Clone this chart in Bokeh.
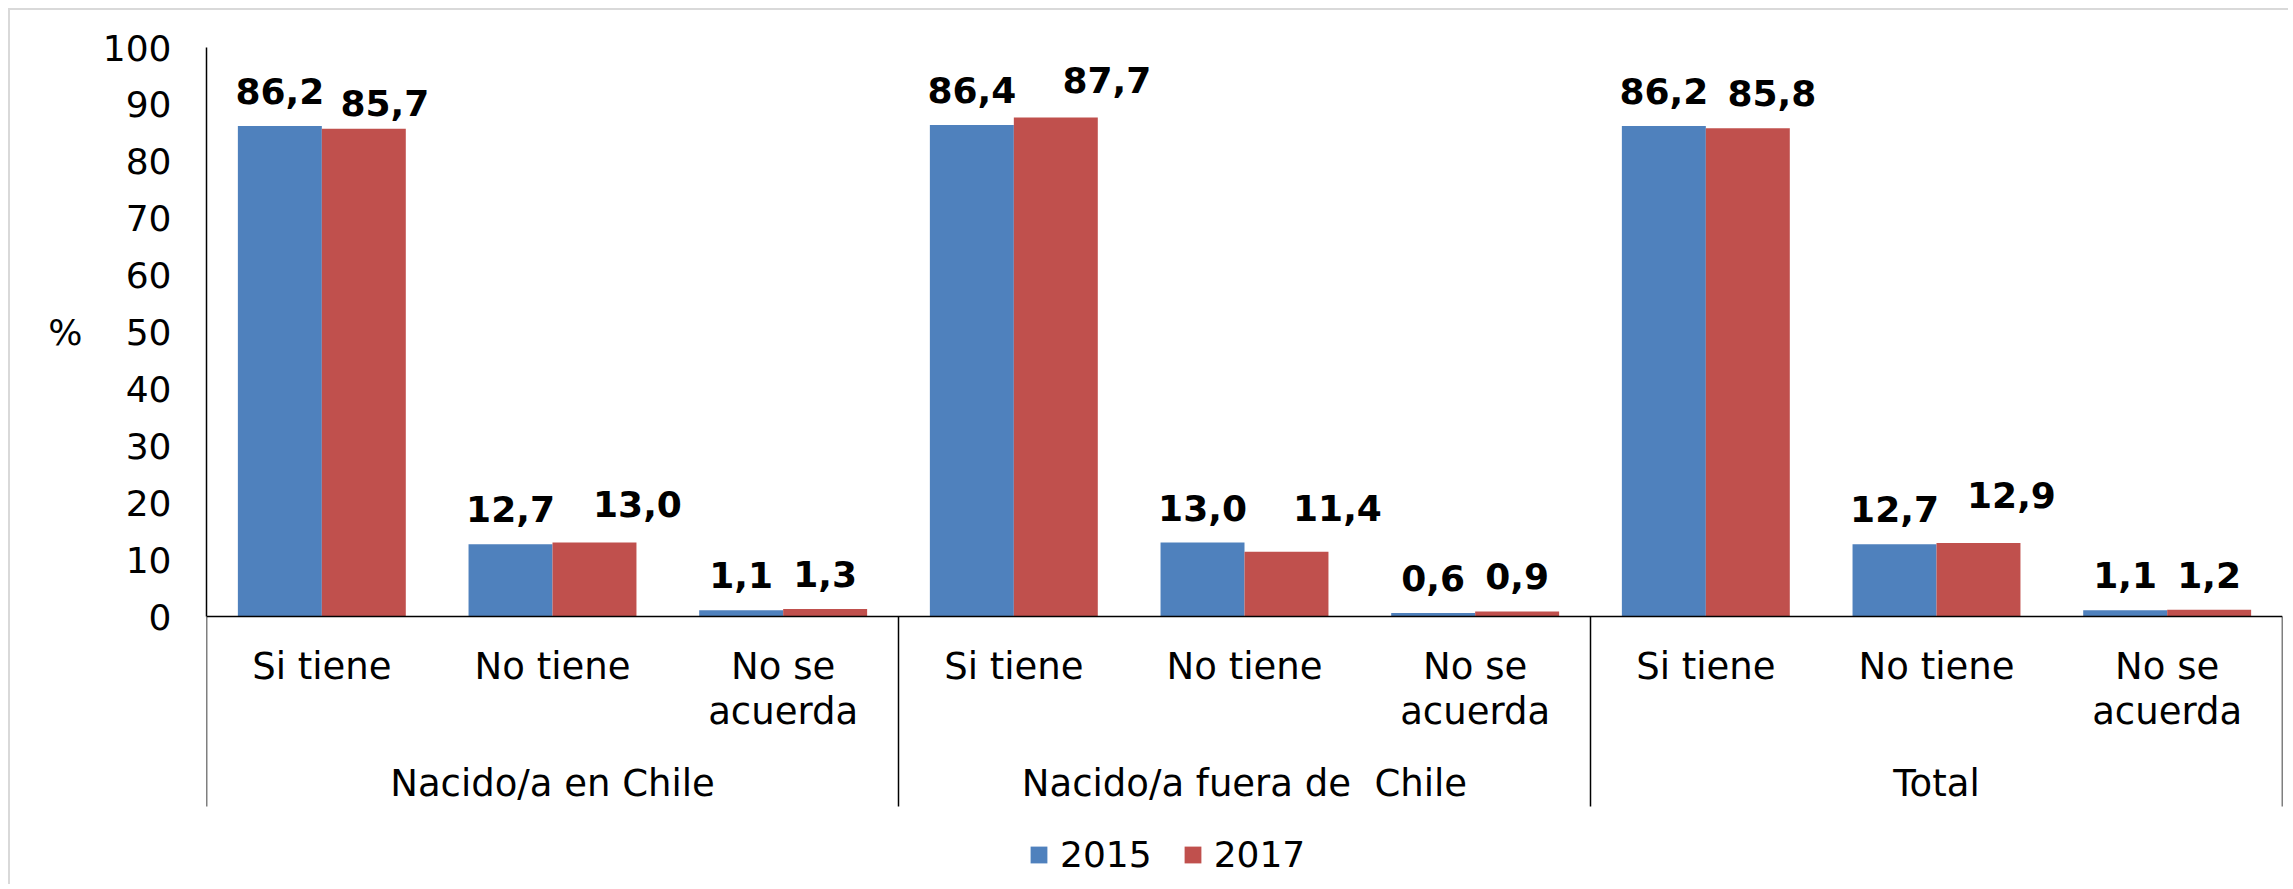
from bokeh.plotting import figure
from bokeh.models import (FactorRange, ColumnDataSource, FixedTicker, Legend,
                          LegendItem, Range1d, LinearAxis)
from bokeh.transform import dodge
from bokeh.core.properties import value
from bokeh.embed import file_html
from bokeh.resources import INLINE

# ---------------- data ----------------
groups = ["Nacido/a en Chile", "Nacido/a fuera de  Chile", "Total"]
categories = ["Si tiene", "No tiene", "No se acuerda"]
series_names = ["2015", "2017"]
values_2015 = [86.2, 12.7, 1.1, 86.4, 13.0, 0.6, 86.2, 12.7, 1.1]
values_2017 = [85.7, 13.0, 1.3, 87.7, 11.4, 0.9, 85.8, 12.9, 1.2]
y_ticks = [0, 10, 20, 30, 40, 50, 60, 70, 80, 90, 100]
y_axis_title = "%"

# ---------------- style ----------------
FONT = "DejaVu Sans"
FS = "36px"
FS_CAT = "37px"
COLORS = ["#4F81BD", "#C0504D"]
LINE = "#000000"
BORDER = "#D9D9D9"
category_wrap = {"No se acuerda": "No se\nacuerda"}
# label nudges (px) imitating the reference's overlap avoidance
nudge_x_2015 = [0, 0, 0, 0, 0, 0, 0, 0, 0]
nudge_y_2015 = [0, 0, 0, 0, 0, 0, 0, 0, 0]
nudge_x_2017 = [21, 43, 0, 51, 51, 0, 24, 33, 0]
nudge_y_2017 = [9, -4, 0, -2, -9, 0, 0, -13, 0]
LABEL_GAP = 35

# page-pixel layout
HOST_MARGIN = 8
ORIGIN_X = ORIGIN_Y = HOST_MARGIN + 2   # margin + border
FRAME_L, FRAME_R = 206, 2282
Y_TOP, Y_ZERO = 47, 616        # pixel rows of 100 and 0
SEP_BOTTOM = 806
CANVAS_W, CANVAS_H = 2280, 876
frame_bottom = ORIGIN_Y + CANVAS_H
ppu = (Y_ZERO - Y_TOP) / 100.0
y_start = -(frame_bottom - Y_ZERO) / ppu
sep_bottom_val = -(SEP_BOTTOM - Y_ZERO) / ppu

BAR_W = 0.364

factors = [(g, c) for g in groups for c in categories]

p = figure(
    width=CANVAS_W, height=CANVAS_H,
    x_range=FactorRange(factors=factors, factor_padding=0, group_padding=0,
                        subgroup_padding=0, range_padding=0),
    y_range=Range1d(y_start, 100),
    x_axis_location=None,
    toolbar_location=None, output_backend="svg",
    min_border_left=FRAME_L - ORIGIN_X, min_border_right=max(ORIGIN_X + CANVAS_W - FRAME_R, 0),
    min_border_top=Y_TOP - ORIGIN_Y, min_border_bottom=0,
    outline_line_color=None,
    styles={"border-top": "2px solid " + BORDER, "border-left": "2px solid " + BORDER,
            "margin-top": f"{HOST_MARGIN}px", "margin-left": f"{HOST_MARGIN}px"},
)
p.xgrid.visible = False
p.ygrid.visible = False

# y axis
ax = p.yaxis[0]
ax.ticker = FixedTicker(ticks=y_ticks, minor_ticks=[])
ax.bounds = (0, 100)
ax.axis_line_color = LINE
ax.axis_line_width = 1.5
ax.major_tick_line_color = None
ax.minor_tick_line_color = None
ax.major_tick_out = 0
ax.major_tick_in = 0
ax.major_label_standoff = 35
ax.major_label_text_font = FONT
ax.major_label_text_font_size = FS
ax.major_label_text_color = "#000000"

# y axis title "%", placed at the middle of the 0-100 scale through an outer axis
mid = (y_ticks[0] + y_ticks[-1]) / 2
title_axis = LinearAxis(ticker=FixedTicker(ticks=[mid], minor_ticks=[]),
                        major_label_overrides={mid: y_axis_title},
                        axis_line_color=None, major_tick_line_color=None,
                        minor_tick_line_color=None, major_tick_out=0, major_tick_in=0,
                        major_label_standoff=17, major_label_text_font=FONT,
                        major_label_text_font_size=FS, major_label_text_color="#000000")
p.add_layout(title_axis, "left")

# bars
src = ColumnDataSource(dict(
    x=factors, v15=values_2015, v17=values_2017,
    t15=[f"{v:.1f}".replace(".", ",") for v in values_2015],
    t17=[f"{v:.1f}".replace(".", ",") for v in values_2017],
    nx15=nudge_x_2015, ny15=[d - LABEL_GAP for d in nudge_y_2015],
    nx17=nudge_x_2017, ny17=[d - LABEL_GAP for d in nudge_y_2017],
))
r15 = p.vbar(x=dodge("x", -BAR_W / 2, range=p.x_range), top="v15", bottom=0, width=BAR_W,
             source=src, fill_color=COLORS[0], line_color=None)
r17 = p.vbar(x=dodge("x", BAR_W / 2, range=p.x_range), top="v17", bottom=0, width=BAR_W,
             source=src, fill_color=COLORS[1], line_color=None)

# data labels
for off, top, txt, nx, ny in [(-BAR_W / 2, "v15", "t15", "nx15", "ny15"),
                              (BAR_W / 2, "v17", "t17", "nx17", "ny17")]:
    p.text(x=dodge("x", off, range=p.x_range), y=top, text=txt, source=src,
           x_offset=nx, y_offset=ny,
           text_font=value(FONT), text_font_size=FS, text_font_style="bold",
           text_color="#000000", text_align="center", text_baseline="alphabetic")

# baseline, axis extension and group separators
n_cat = len(categories)
p.segment(x0=[0], y0=[0], x1=[len(factors)], y1=[0], line_color=LINE, line_width=1.5)
bounds = [n_cat * i for i in range(len(groups) + 1)]
p.segment(x0=bounds, y0=[0] * len(bounds), x1=bounds, y1=[sep_bottom_val] * len(bounds),
          line_color=LINE, line_width=1.5)

# category labels
cat_src = ColumnDataSource(dict(x=factors, y=[0] * len(factors),
                                t=[category_wrap.get(c, c) for g, c in factors]))
p.text(x="x", y="y", text="t", source=cat_src, y_offset=28,
       text_font=value(FONT), text_font_size=FS_CAT, text_color="#000000",
       text_align="center", text_baseline="top", text_line_height=1.05)

# group labels (keep the double space visible in SVG)
grp_src = ColumnDataSource(dict(x=[(g, categories[1]) for g in groups], y=[0] * len(groups),
                                t=[g.replace("  ", "\u00a0 ") for g in groups]))
p.text(x="x", y="y", text="t", source=grp_src, y_offset=167,
       text_font=value(FONT), text_font_size=FS_CAT, text_color="#000000",
       text_align="center", text_baseline="middle")

# legend
legend = Legend(items=[LegendItem(label=series_names[0], renderers=[r15]),
                       LegendItem(label=series_names[1], renderers=[r17])],
                orientation="horizontal", location=(1028 - FRAME_L, frame_bottom - 875),
                glyph_width=21, glyph_height=21, label_standoff=11, spacing=30,
                padding=0, margin=0, border_line_color=None, background_fill_alpha=0,
                label_text_font=FONT, label_text_font_size=FS, label_text_color="#000000")
p.add_layout(legend)

open("out.html", "w").write(file_html(p, INLINE))
